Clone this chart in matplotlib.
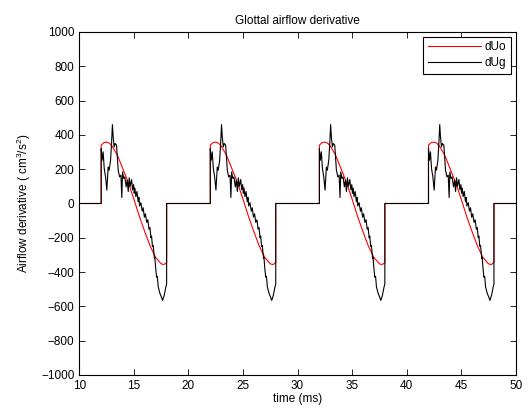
import numpy as np
import matplotlib
matplotlib.use("Agg")
import matplotlib.pyplot as plt

plt.rcParams['font.family'] = ['Liberation Sans', 'DejaVu Sans']
plt.rcParams['font.size'] = 8.5
plt.rcParams['mathtext.fontset'] = 'custom'
plt.rcParams['mathtext.rm'] = 'Liberation Sans'
plt.rcParams['mathtext.default'] = 'rm'

# Pulse onsets (ms)
pulse_starts = [12, 22, 32, 42]

# One glottal cycle of the model derivative dUo (time relative to onset, ms)
uo_rel_t = [0.0, 0.25, 0.5, 0.75, 1.0, 1.5, 2.0, 2.5, 3.0, 3.5,
            4.0, 4.5, 5.0, 5.5, 5.75, 6.0]
uo_vals = [340, 355, 358, 352, 335, 280, 200, 120, 25, -75,
           -165, -250, -315, -352, -356, -345]

# One glottal cycle of the estimated derivative dUg
ug_rel_t = [0.0, 0.09, 0.18, 0.28, 0.40, 0.52, 0.64, 0.73, 0.86, 0.95,
            1.03, 1.10, 1.19, 1.28, 1.41, 1.50, 1.56, 1.69, 1.81, 1.89,
            1.96, 2.06, 2.17, 2.29, 2.39, 2.48, 2.57, 2.66, 2.79, 2.88,
            2.97, 3.03, 3.09, 3.18, 3.28, 3.39, 3.46, 3.52, 3.64, 3.76,
            3.85, 3.96, 4.06, 4.17, 4.28, 4.38, 4.47, 4.56, 4.62, 4.70,
            4.77, 4.88, 4.92, 5.00, 5.08, 5.15, 5.23, 5.39, 5.52, 5.63,
            5.70, 5.78, 5.93, 6.0]
ug_vals = [320, 252, 301, 204, 155, 78, 213, 194, 252, 350,
           460, 388, 330, 350, 340, 252, 194, 155, 165, 35,
           184, 146, 155, 97, 136, 70, 150, 100, 140, 80,
           110, 60, 90, 40, 70, 10, 35, -15, 5, -45,
           -25, -80, -60, -110, -95, -150, -140, -200, -190, -250,
           -245, -320, -315, -380, -430, -425, -486, -525, -545, -565,
           -550, -535, -486, -470]

t_start, t_end = 10, 50


def build(rel_t, vals):
    t = [t_start]
    y = [0]
    for s in pulse_starts:
        t += [s] + [s + r for r in rel_t] + [s + rel_t[-1]]
        y += [0] + list(vals) + [0]
    t.append(t_end)
    y.append(0)
    return np.array(t), np.array(y)


t_uo, y_uo = build(uo_rel_t, uo_vals)
t_ug, y_ug = build(ug_rel_t, ug_vals)

fig = plt.figure(figsize=(5.29, 4.15), dpi=100)
ax = fig.add_axes([0.150, 0.0964, 0.825, 0.8265])

ax.plot(t_uo, y_uo, color='red', lw=0.8, label='dUo')
ax.plot(t_ug, y_ug, color='black', lw=0.8, label='dUg')

ax.set_xlim(10, 50)
ax.set_ylim(-1000, 1000)
ax.set_xticks(np.arange(10, 51, 5))
ax.set_yticks(np.arange(-1000, 1001, 200))
ax.tick_params(direction='in', top=True, right=True, length=4, width=0.6)
for sp in ax.spines.values():
    sp.set_linewidth(0.8)

ax.set_title('Glottal airflow derivative', fontsize=8.5, pad=6)
ax.set_xlabel('time (ms)', labelpad=1)
ax.set_ylabel('Airflow derivative ( cm$^3$/s$^2$)', labelpad=6)

leg = ax.legend(loc='upper right', fancybox=False, edgecolor='black',
                framealpha=1, borderaxespad=0.4, handlelength=4.5,
                handletextpad=0.3, borderpad=0.4, labelspacing=0.3)
leg.get_frame().set_linewidth(0.8)

fig.savefig('out.png', dpi=100)
